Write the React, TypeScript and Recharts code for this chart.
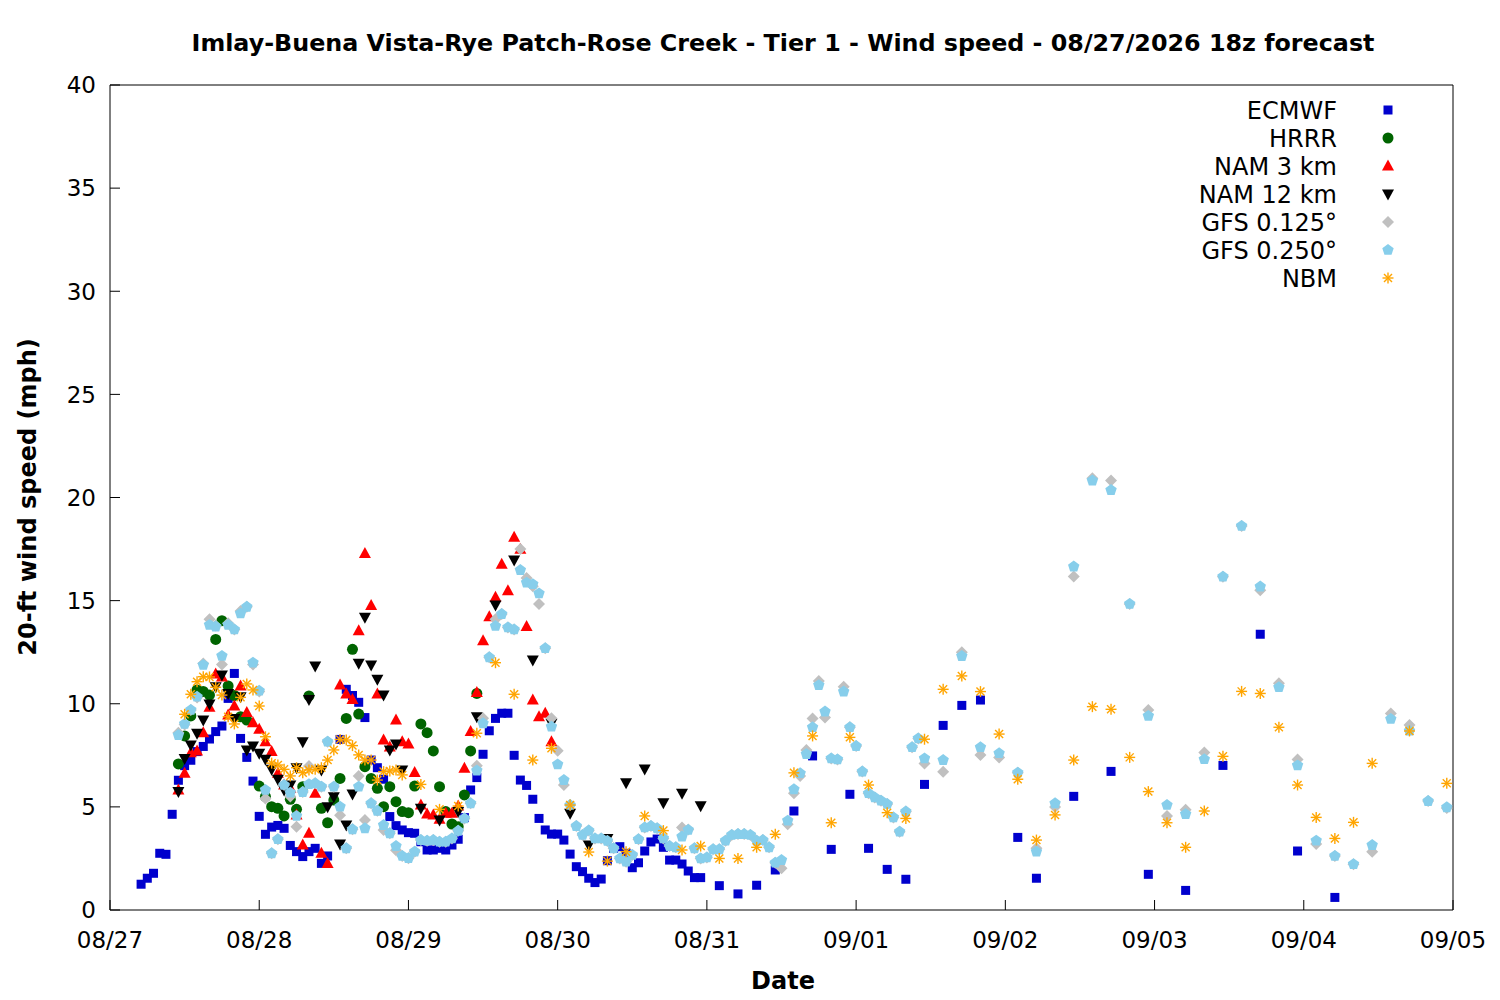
import React from 'react';
import { ScatterChart, Scatter, XAxis, YAxis } from 'recharts';

// hours are counted from 08/27 00:00 local time
type Pt = [number, number];

const dayLabels = ['08/27', '08/28', '08/29', '08/30', '08/31', '09/01', '09/02', '09/03', '09/04', '09/05'];
const dayTicks = dayLabels.map((_, i) => i * 24);
const speedTicks = [0, 5, 10, 15, 20, 25, 30, 35, 40];
const seriesNames = ['ECMWF', 'HRRR', 'NAM 3 km', 'NAM 12 km', 'GFS 0.125°', 'GFS 0.250°', 'NBM'];

const ecmwf: Pt[] = [
  [5, 1.25], [6, 1.54], [7, 1.78], [8, 2.75], [9, 2.7], [10, 4.64], [11, 6.29], [12, 7.0], [13, 7.26], [14, 7.68],
  [15, 7.93], [16, 8.29], [17, 8.65], [18, 8.92], [19, 10.26], [20, 11.47], [21, 8.32], [22, 7.4], [23, 6.25], [24, 4.54],
  [25, 3.67], [26, 4.02], [27, 4.1], [28, 3.96], [29, 3.13], [30, 2.83], [31, 2.59], [32, 2.83], [33, 2.99], [34, 2.26],
  [35, 2.62], [37, 8.27], [38, 10.7], [39, 10.4], [40, 10.07], [41, 9.33], [42, 7.27], [43, 6.9], [44, 6.34], [45, 4.53],
  [46, 4.09], [47, 3.88], [48, 3.75], [49, 3.72], [50, 3.31], [51, 2.91], [52, 2.91], [53, 2.99], [54, 2.91], [55, 3.15],
  [56, 3.43], [57, 4.48], [58, 5.82], [59, 6.42], [60, 7.55], [61, 8.69], [62, 9.29], [63, 9.54], [64, 9.54], [65, 7.5],
  [66, 6.3], [67, 6.04], [68, 5.37], [69, 4.44], [70, 3.88], [71, 3.68], [72, 3.68], [73, 3.39], [74, 2.71], [75, 2.1],
  [76, 1.86], [77, 1.54], [78, 1.33], [79, 1.5], [80, 2.39], [81, 2.99], [82, 3.07], [83, 2.75], [84, 2.05], [85, 2.29],
  [86, 2.86], [87, 3.3], [88, 3.44], [89, 3.04], [90, 2.42], [91, 2.42], [92, 2.23], [93, 1.89], [94, 1.57], [95, 1.57],
  [98, 1.18], [101, 0.78], [104, 1.2], [107, 1.94], [110, 4.8], [113, 7.47], [116, 2.94], [119, 5.61], [122, 2.99],
  [125, 1.97], [128, 1.49], [131, 6.09], [134, 8.95], [137, 9.92], [140, 10.18], [146, 3.52], [149, 1.54], [155, 5.51],
  [161, 6.72], [167, 1.73], [173, 0.95], [179, 7.01], [185, 13.37], [191, 2.86], [197, 0.61],
];

const hrrr: Pt[] = [
  [11, 7.08], [12, 8.44], [13, 9.41], [14, 10.67], [15, 10.6], [16, 10.42], [17, 13.12], [18, 14.03], [19, 10.86], [20, 10.4],
  [21, 9.37], [22, 9.21], [24, 6.01], [25, 5.5], [26, 5.01], [27, 4.93], [28, 4.56], [29, 5.37], [30, 4.88], [31, 5.98],
  [32, 10.38], [34, 4.93], [35, 4.23], [36, 5.33], [37, 6.38], [38, 9.29], [39, 12.64], [40, 9.5], [41, 6.95], [42, 6.38],
  [43, 5.9], [44, 5.01], [45, 5.98], [46, 5.25], [47, 4.77], [48, 4.72], [49, 6.01], [50, 9.02], [51, 8.6], [52, 7.71],
  [53, 5.98], [54, 4.77], [55, 4.17], [56, 4.04], [57, 5.58], [58, 7.71], [59, 10.5],
];

const nam3: Pt[] = [
  [11, 5.82], [12, 6.63], [13, 7.63], [14, 7.71], [15, 8.6], [16, 9.83], [17, 11.44], [18, 11.3], [19, 9.45], [20, 9.89],
  [21, 10.86], [22, 9.57], [23, 9.08], [24, 8.76], [25, 8.16], [26, 7.68], [27, 6.63], [28, 6.06], [29, 5.9], [30, 4.61],
  [31, 3.15], [32, 3.72], [33, 5.66], [34, 2.75], [35, 2.26], [37, 10.91], [38, 10.47], [39, 10.21], [40, 13.54], [41, 17.29],
  [42, 14.76], [43, 10.47], [44, 8.24], [45, 7.9], [46, 9.21], [47, 8.16], [48, 8.05], [49, 6.67], [50, 5.09], [51, 4.65],
  [52, 4.61], [53, 4.4], [54, 4.69], [55, 4.69], [56, 5.04], [57, 6.87], [58, 8.65], [59, 10.54], [60, 13.06], [61, 14.22],
  [62, 15.16], [63, 16.76], [64, 15.48], [65, 18.07], [66, 17.49], [67, 13.74], [68, 10.18], [69, 9.37], [70, 9.54], [71, 8.16],
];

const nam12: Pt[] = [
  [11, 5.74], [12, 7.35], [13, 8.0], [14, 8.57], [15, 9.21], [16, 9.99], [17, 10.83], [18, 11.39], [19, 10.5], [20, 9.29],
  [21, 10.34], [22, 7.76], [23, 7.95], [24, 7.6], [25, 7.31], [26, 6.82], [27, 6.34], [28, 5.82], [29, 6.06], [30, 6.9],
  [31, 8.16], [32, 10.21], [33, 11.83], [34, 6.79], [35, 5.01], [36, 5.49], [37, 3.2], [38, 4.12], [39, 5.62], [40, 11.96],
  [41, 14.19], [42, 11.88], [43, 11.19], [44, 10.42], [45, 7.76], [46, 8.05], [47, 6.79], [50, 4.93], [53, 4.36], [56, 4.77],
  [59, 9.37], [62, 14.79], [65, 16.97], [68, 12.12], [71, 9.05], [74, 4.69], [77, 3.15], [80, 3.47], [83, 6.17], [86, 6.84],
  [89, 5.2], [92, 5.66], [95, 5.06],
];

const gfs125: Pt[] = [
  [11, 8.6], [12, 9.0], [13, 9.7], [14, 10.3], [15, 11.95], [16, 14.1], [17, 13.8], [18, 11.9], [19, 13.9], [20, 13.6],
  [21, 14.5], [22, 14.7], [23, 11.9], [24, 10.6], [25, 5.41], [26, 2.75], [27, 3.43], [28, 6.06], [29, 5.5], [30, 4.04],
  [31, 5.72], [32, 6.98], [33, 6.14], [34, 5.98], [35, 8.16], [36, 5.98], [37, 4.6], [38, 2.99], [39, 3.91], [40, 6.5],
  [41, 4.36], [42, 5.17], [43, 4.81], [44, 3.88], [45, 3.72], [46, 2.9], [47, 2.62], [48, 2.51], [49, 2.83], [50, 3.39],
  [51, 3.36], [52, 3.39], [53, 3.31], [54, 3.31], [55, 3.47], [56, 3.84], [57, 4.44], [58, 5.17], [59, 7.0], [60, 9.3],
  [61, 12.25], [62, 14.1], [63, 14.35], [64, 13.7], [65, 13.6], [66, 17.5], [67, 16.1], [68, 15.7], [69, 14.84], [70, 12.69],
  [71, 9.3], [72, 7.72], [73, 6.06], [74, 5.09], [75, 4.07], [76, 3.64], [77, 3.85], [78, 3.47], [79, 3.47], [80, 3.35],
  [81, 2.99], [82, 2.5], [83, 2.34], [84, 2.67], [85, 3.43], [86, 4.0], [87, 4.07], [88, 3.96], [89, 3.47], [90, 3.1],
  [91, 3.04], [92, 4.0], [93, 3.9], [94, 2.99], [95, 2.5], [96, 2.55], [97, 2.94], [98, 2.94], [99, 3.36], [100, 3.64],
  [101, 3.68], [102, 3.68], [103, 3.64], [104, 3.36], [105, 3.39], [106, 3.04], [107, 2.29], [108, 2.02], [109, 4.16], [110, 5.66],
  [111, 6.5], [112, 7.76], [113, 9.29], [114, 11.1], [115, 9.33], [116, 7.35], [117, 7.3], [118, 10.83], [119, 8.86], [120, 7.95],
  [121, 6.71], [122, 5.66], [123, 5.46], [124, 5.3], [125, 5.14], [126, 4.49], [127, 3.8], [128, 4.77], [129, 7.89], [130, 8.32],
  [131, 7.1], [134, 6.7], [137, 12.5], [140, 7.51], [143, 7.4], [146, 6.66], [149, 3.0], [152, 5.0], [155, 16.17], [158, 20.93],
  [161, 20.82], [164, 14.84], [167, 9.7], [170, 4.56], [173, 4.86], [176, 7.64], [179, 16.16], [182, 18.62], [185, 15.5], [188, 11.0],
  [191, 7.3], [194, 3.2], [197, 2.62], [200, 2.22], [203, 2.83], [206, 9.53], [209, 8.97], [212, 5.28], [215, 4.95],
];

const gfs250: Pt[] = [
  [11, 8.48], [12, 9.02], [13, 9.7], [14, 10.34], [15, 11.88], [16, 13.82], [17, 13.74], [18, 12.32], [19, 13.82], [20, 13.6],
  [21, 14.38], [22, 14.7], [23, 11.99], [24, 10.63], [25, 5.82], [26, 2.75], [27, 3.43], [28, 6.06], [29, 5.69], [30, 4.56],
  [31, 5.72], [32, 6.1], [33, 6.14], [34, 5.98], [35, 8.16], [36, 5.98], [37, 5.01], [38, 2.99], [39, 3.91], [40, 5.98],
  [41, 3.96], [42, 5.17], [43, 4.81], [44, 4.12], [45, 3.72], [46, 3.1], [47, 2.62], [48, 2.51], [49, 2.83], [50, 3.39],
  [51, 3.36], [52, 3.39], [53, 3.31], [54, 3.31], [55, 3.47], [56, 3.84], [57, 4.44], [58, 5.17], [59, 6.76], [60, 9.05],
  [61, 12.25], [62, 13.77], [63, 14.35], [64, 13.7], [65, 13.6], [66, 16.48], [67, 15.87], [68, 15.8], [69, 15.35], [70, 12.69],
  [71, 8.89], [72, 7.06], [73, 6.3], [74, 5.09], [75, 4.07], [76, 3.64], [77, 3.85], [78, 3.47], [79, 3.47], [80, 3.35],
  [81, 2.99], [82, 2.5], [83, 2.34], [84, 2.67], [85, 3.43], [86, 4.0], [87, 4.07], [88, 3.96], [89, 3.47], [90, 3.1],
  [91, 3.04], [92, 3.56], [93, 3.88], [94, 2.99], [95, 2.5], [96, 2.55], [97, 2.94], [98, 2.94], [99, 3.36], [100, 3.64],
  [101, 3.68], [102, 3.68], [103, 3.64], [104, 3.36], [105, 3.39], [106, 3.04], [107, 2.29], [108, 2.42], [109, 4.33], [110, 5.85],
  [111, 6.63], [112, 7.56], [113, 8.86], [114, 10.9], [115, 9.62], [116, 7.35], [117, 7.3], [118, 10.59], [119, 8.86], [120, 7.95],
  [121, 6.71], [122, 5.66], [123, 5.46], [124, 5.3], [125, 5.14], [126, 4.49], [127, 3.8], [128, 4.77], [129, 7.89], [130, 8.32],
  [131, 7.35], [134, 7.27], [137, 12.31], [140, 7.89], [143, 7.6], [146, 6.66], [149, 2.83], [152, 5.17], [155, 16.65], [158, 20.82],
  [161, 20.36], [164, 14.84], [167, 9.41], [170, 5.09], [173, 4.65], [176, 7.31], [179, 16.16], [182, 18.62], [185, 15.68], [188, 10.8],
  [191, 7.01], [194, 3.36], [197, 2.62], [200, 2.22], [203, 3.15], [206, 9.26], [209, 8.69], [212, 5.28], [215, 4.98],
];

const nbm: Pt[] = [
  [12, 9.49], [13, 10.46], [14, 11.07], [15, 11.31], [16, 11.3], [17, 10.8], [18, 10.42], [19, 9.37], [20, 9.02], [21, 10.31],
  [22, 10.96], [23, 10.67], [24, 9.89], [25, 8.4], [26, 7.12], [27, 7.03], [28, 6.82], [29, 6.5], [30, 6.9], [31, 6.66],
  [32, 6.79], [33, 6.82], [34, 6.9], [35, 7.27], [36, 7.76], [37, 8.27], [38, 8.24], [39, 7.97], [40, 7.52], [41, 7.27],
  [42, 7.27], [43, 6.3], [44, 6.71], [45, 6.74], [46, 6.79], [47, 6.55], [50, 6.09], [53, 4.88], [56, 5.04], [59, 8.57],
  [62, 11.99], [65, 10.46], [68, 7.27], [71, 7.84], [74, 5.09], [77, 2.81], [80, 2.37], [83, 2.83], [86, 4.56], [89, 3.85],
  [92, 2.91], [95, 3.1], [98, 2.5], [101, 2.5], [104, 3.04], [107, 3.67], [110, 6.65], [113, 8.44], [116, 4.23], [119, 8.37],
  [122, 6.06], [125, 4.72], [128, 4.44], [131, 8.28], [134, 10.7], [137, 11.35], [140, 10.59], [143, 8.53], [146, 6.34], [149, 3.39],
  [152, 4.61], [155, 7.27], [158, 9.86], [161, 9.73], [164, 7.4], [167, 5.74], [170, 4.23], [173, 3.04], [176, 4.8], [179, 7.45],
  [182, 10.6], [185, 10.5], [188, 8.86], [191, 6.06], [194, 4.49], [197, 3.47], [200, 4.25], [203, 7.11], [209, 8.68], [215, 6.14],
];

const FONT = '"DejaVu Sans", sans-serif';
const FS = 24; // labels, legend
const TFS = 23; // tick labels

const toRows = (pts: Pt[]) => pts.map(([h, v]) => ({ h, v }));

// marker glyphs, gnuplot style
type Glyph = (cx: number, cy: number) => React.ReactElement;

const pentagon = (cx: number, cy: number, r: number) =>
  [0, 1, 2, 3, 4]
    .map((i) => {
      const a = (-90 + i * 72) * (Math.PI / 180);
      return `${cx + r * Math.cos(a)},${cy + r * Math.sin(a)}`;
    })
    .join(' ');

const glyphs: Record<string, Glyph> = {
  square: (cx, cy) => <rect x={cx - 4.5} y={cy - 4.5} width={9} height={9} fill="#0000cd" />,
  circle: (cx, cy) => <circle cx={cx} cy={cy} r={5.5} fill="#006400" />,
  up: (cx, cy) => <polygon points={`${cx},${cy - 6.5} ${cx - 6},${cy + 4.5} ${cx + 6},${cy + 4.5}`} fill="#ff0000" />,
  down: (cx, cy) => <polygon points={`${cx},${cy + 6.5} ${cx - 6},${cy - 4.5} ${cx + 6},${cy - 4.5}`} fill="#000000" />,
  diamond: (cx, cy) => <polygon points={`${cx},${cy - 6} ${cx + 6},${cy} ${cx},${cy + 6} ${cx - 6},${cy}`} fill="#c0c0c0" />,
  pentagon: (cx, cy) => <polygon points={pentagon(cx, cy, 6)} fill="#87ceeb" />,
  star: (cx, cy) => (
    <g stroke="#ffa500" strokeWidth={1.4}>
      <line x1={cx - 5.5} y1={cy} x2={cx + 5.5} y2={cy} />
      <line x1={cx} y1={cy - 5.5} x2={cx} y2={cy + 5.5} />
      <line x1={cx - 4} y1={cy - 4} x2={cx + 4} y2={cy + 4} />
      <line x1={cx - 4} y1={cy + 4} x2={cx + 4} y2={cy - 4} />
    </g>
  ),
};

const series = [
  { name: seriesNames[0], data: ecmwf, glyph: 'square' },
  { name: seriesNames[1], data: hrrr, glyph: 'circle' },
  { name: seriesNames[2], data: nam3, glyph: 'up' },
  { name: seriesNames[3], data: nam12, glyph: 'down' },
  { name: seriesNames[4], data: gfs125, glyph: 'diamond' },
  { name: seriesNames[5], data: gfs250, glyph: 'pentagon' },
  { name: seriesNames[6], data: nbm, glyph: 'star' },
];

const shapeFor = (g: string) => (p: any) => glyphs[g](p.cx, p.cy);

// inward tick marks on all four sides, labels outside
const BottomTick = (p: any) => (
  <g>
    <line x1={p.x} y1={p.y} x2={p.x} y2={p.y - 10} stroke="#000" />
    <text x={p.x} y={p.y + 38} textAnchor="middle" fontSize={TFS} fontFamily={FONT} fill="#000">
      {dayLabels[Math.round(p.payload.value / 24)]}
    </text>
  </g>
);
const TopTick = (p: any) => <line x1={p.x} y1={p.y} x2={p.x} y2={p.y + 10} stroke="#000" />;
const LeftTick = (p: any) => (
  <g>
    <line x1={p.x} y1={p.y} x2={p.x + 10} y2={p.y} stroke="#000" />
    <text x={p.x - 14} y={p.y} dy="0.36em" textAnchor="end" fontSize={TFS} fontFamily={FONT} fill="#000">
      {p.payload.value}
    </text>
  </g>
);
const RightTick = (p: any) => <line x1={p.x} y1={p.y} x2={p.x - 10} y2={p.y} stroke="#000" />;

// key box, top right inside the plot
const KeyBox = () => (
  <svg width={230} height={200} style={{ position: 'absolute', left: 1180, top: 95 }}>
    {series.map((s, i) => (
      <g key={s.name}>
        <text x={157} y={15 + i * 28} dy="0.36em" textAnchor="end" fontSize={FS} fontFamily={FONT} fill="#000">
          {s.name}
        </text>
        {glyphs[s.glyph](208, 15 + i * 28)}
      </g>
    ))}
  </svg>
);

export default function App() {
  return (
    <div style={{ position: 'absolute', left: 0, top: 0, width: 1500, height: 1000, background: '#fff' }}>
      <div
        style={{
          position: 'absolute', left: 83, top: 28, width: 1400, textAlign: 'center', whiteSpace: 'nowrap',
          fontFamily: FONT, fontWeight: 'bold', fontSize: 23.8, lineHeight: '30px', color: '#000',
        }}
      >
        Imlay-Buena Vista-Rye Patch-Rose Creek - Tier 1 - Wind speed - 08/27/2026 18z forecast
      </div>
      <ScatterChart width={1500} height={1000} margin={{ top: 0, right: 0, bottom: 0, left: 0 }}>
        <XAxis
          xAxisId="b" dataKey="h" type="number" domain={[0, 216]} ticks={dayTicks} interval={0}
          orientation="bottom" height={90} tickSize={0} tickMargin={0} tick={<BottomTick />}
          axisLine={{ stroke: '#000' }}
          label={() => (
            <text x={783} y={980} dy="0.36em" textAnchor="middle" fontSize={FS} fontWeight="bold" fontFamily={FONT}>
              Date
            </text>
          )}
        />
        <XAxis
          xAxisId="t" dataKey="h" type="number" domain={[0, 216]} ticks={dayTicks} interval={0}
          orientation="top" height={85} tickSize={0} tickMargin={0} tick={<TopTick />} axisLine={{ stroke: '#000' }}
        />
        <YAxis
          yAxisId="l" dataKey="v" type="number" domain={[0, 40]} ticks={speedTicks} interval={0}
          orientation="left" width={110} tickSize={0} tickMargin={0} tick={<LeftTick />}
          axisLine={{ stroke: '#000' }}
          label={() => (
            <text
              x={27} y={497} dy="0.36em" textAnchor="middle" fontSize={FS} fontWeight="bold" fontFamily={FONT}
              transform="rotate(-90 27 497)"
            >
              20-ft wind speed (mph)
            </text>
          )}
        />
        <YAxis
          yAxisId="r" dataKey="v" type="number" domain={[0, 40]} ticks={speedTicks} interval={0}
          orientation="right" width={47} tickSize={0} tickMargin={0} tick={<RightTick />} axisLine={{ stroke: '#000' }}
        />
        {series.map((s) => (
          <Scatter
            key={s.name} name={s.name} data={toRows(s.data)} xAxisId="b" yAxisId="l"
            shape={shapeFor(s.glyph)} isAnimationActive={false}
          />
        ))}
      </ScatterChart>
      <KeyBox />
    </div>
  );
}
